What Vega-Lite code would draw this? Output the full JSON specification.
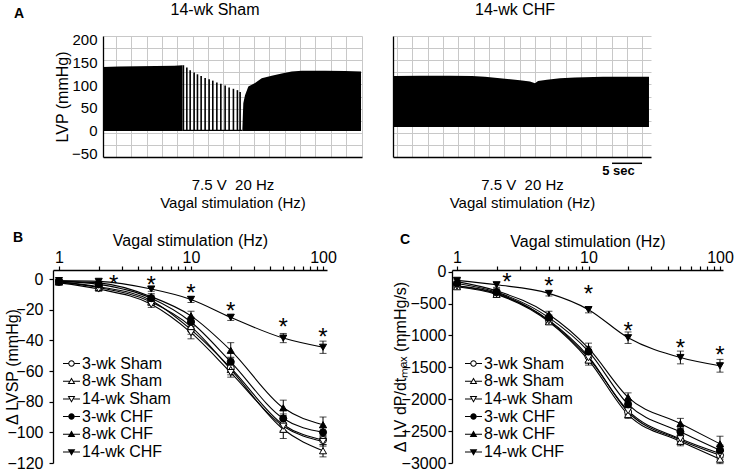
{
  "$schema": "https://vega.github.io/schema/vega-lite/v6.json",
  "background": "white",
  "padding": {"left": 4, "top": 2, "right": 2, "bottom": 2},
  "config": {
    "view": {"stroke": null},
    "font": "Liberation Sans",
    "axis": {"domainColor": "black", "domainWidth": 1.3, "tickColor": "black", "tickWidth": 1.2, "labelColor": "black", "titleColor": "black", "labelFontSize": 16, "titleFontSize": 16, "titleFontWeight": "normal", "labelFlush": false, "labelOverlap": false, "grid": false}
  },
  "datasets": {
    "shamBand": [
      {"seg": "pre", "t": 0.38, "top": 140}, {"seg": "pre", "t": 3, "top": 141}, {"seg": "pre", "t": 6, "top": 142}, {"seg": "pre", "t": 9, "top": 142.5}, {"seg": "pre", "t": 12, "top": 143}, {"seg": "pre", "t": 13.33, "top": 144},
      {"seg": "base", "t": 13.33, "top": 1.5}, {"seg": "base", "t": 23.08, "top": 1.5},
      {"seg": "post", "t": 23.08, "top": 0}, {"seg": "post", "t": 23.24, "top": 60}, {"seg": "post", "t": 23.52, "top": 78}, {"seg": "post", "t": 24.06, "top": 97}, {"seg": "post", "t": 25.15, "top": 105}, {"seg": "post", "t": 26.24, "top": 115}, {"seg": "post", "t": 27.87, "top": 121}, {"seg": "post", "t": 29.5, "top": 126}, {"seg": "post", "t": 31.13, "top": 130}, {"seg": "post", "t": 32.76, "top": 132}, {"seg": "post", "t": 36.55, "top": 132}, {"seg": "post", "t": 39.81, "top": 131}, {"seg": "post", "t": 42.42, "top": 130}
    ],
    "shamSpikes": [
      {"t": 13.48, "peak": 144}, {"t": 14.04, "peak": 139}, {"t": 14.58, "peak": 133}, {"t": 15.23, "peak": 128}, {"t": 15.77, "peak": 124}, {"t": 16.37, "peak": 120}, {"t": 17.02, "peak": 116}, {"t": 17.67, "peak": 113}, {"t": 18.27, "peak": 110}, {"t": 18.93, "peak": 106}, {"t": 19.58, "peak": 103}, {"t": 20.28, "peak": 99}, {"t": 20.93, "peak": 95}, {"t": 21.63, "peak": 92}, {"t": 22.28, "peak": 89}, {"t": 22.72, "peak": 85}
    ],
    "chfBand": [
      {"t": 2.01, "top": 120}, {"t": 6.25, "top": 121}, {"t": 11.14, "top": 121}, {"t": 14.72, "top": 120.5}, {"t": 16.84, "top": 118.5}, {"t": 20.1, "top": 114}, {"t": 22.54, "top": 111}, {"t": 24.17, "top": 108}, {"t": 24.99, "top": 104}, {"t": 25.48, "top": 109}, {"t": 26.94, "top": 112}, {"t": 29.06, "top": 115}, {"t": 31.51, "top": 117}, {"t": 36.07, "top": 118.5}, {"t": 43.56, "top": 118.5}
    ],
    "lvsp": [
      {"g": "3-wk Sham", "hz": 1, "v": -2, "e": 1}, {"g": "3-wk Sham", "hz": 2, "v": -5, "e": 1.5}, {"g": "3-wk Sham", "hz": 5, "v": -14, "e": 2}, {"g": "3-wk Sham", "hz": 10, "v": -33, "e": 3}, {"g": "3-wk Sham", "hz": 20, "v": -58, "e": 3}, {"g": "3-wk Sham", "hz": 50, "v": -95, "e": 4}, {"g": "3-wk Sham", "hz": 100, "v": -105, "e": 3},
      {"g": "8-wk Sham", "hz": 1, "v": -2, "e": 1}, {"g": "8-wk Sham", "hz": 2, "v": -5.5, "e": 1.5}, {"g": "8-wk Sham", "hz": 5, "v": -15, "e": 2}, {"g": "8-wk Sham", "hz": 10, "v": -31, "e": 3}, {"g": "8-wk Sham", "hz": 20, "v": -59, "e": 3.5}, {"g": "8-wk Sham", "hz": 50, "v": -98, "e": 6}, {"g": "8-wk Sham", "hz": 100, "v": -112, "e": 4},
      {"g": "14-wk Sham", "hz": 1, "v": -2.5, "e": 1}, {"g": "14-wk Sham", "hz": 2, "v": -6.5, "e": 1.5}, {"g": "14-wk Sham", "hz": 5, "v": -16.5, "e": 2}, {"g": "14-wk Sham", "hz": 10, "v": -35, "e": 4}, {"g": "14-wk Sham", "hz": 20, "v": -61, "e": 3}, {"g": "14-wk Sham", "hz": 50, "v": -96, "e": 4}, {"g": "14-wk Sham", "hz": 100, "v": -106, "e": 3},
      {"g": "3-wk CHF", "hz": 1, "v": -1.5, "e": 1}, {"g": "3-wk CHF", "hz": 2, "v": -3.5, "e": 1}, {"g": "3-wk CHF", "hz": 5, "v": -12.5, "e": 2}, {"g": "3-wk CHF", "hz": 10, "v": -28, "e": 3}, {"g": "3-wk CHF", "hz": 20, "v": -54, "e": 3}, {"g": "3-wk CHF", "hz": 50, "v": -91, "e": 3}, {"g": "3-wk CHF", "hz": 100, "v": -100, "e": 3},
      {"g": "8-wk CHF", "hz": 1, "v": -1.5, "e": 1}, {"g": "8-wk CHF", "hz": 2, "v": -2.5, "e": 1}, {"g": "8-wk CHF", "hz": 5, "v": -11.5, "e": 2}, {"g": "8-wk CHF", "hz": 10, "v": -24, "e": 3}, {"g": "8-wk CHF", "hz": 20, "v": -46.5, "e": 5}, {"g": "8-wk CHF", "hz": 50, "v": -84, "e": 5}, {"g": "8-wk CHF", "hz": 100, "v": -95, "e": 5},
      {"g": "14-wk CHF", "hz": 1, "v": -1, "e": 0.5}, {"g": "14-wk CHF", "hz": 2, "v": -1.5, "e": 1}, {"g": "14-wk CHF", "hz": 5, "v": -6.5, "e": 1.5}, {"g": "14-wk CHF", "hz": 10, "v": -13.3, "e": 2}, {"g": "14-wk CHF", "hz": 20, "v": -25, "e": 2}, {"g": "14-wk CHF", "hz": 50, "v": -38.5, "e": 3}, {"g": "14-wk CHF", "hz": 100, "v": -44.5, "e": 4}
    ],
    "dpdt": [
      {"g": "3-wk Sham", "hz": 1, "v": -220, "e": 30}, {"g": "3-wk Sham", "hz": 2, "v": -335, "e": 40}, {"g": "3-wk Sham", "hz": 5, "v": -760, "e": 40}, {"g": "3-wk Sham", "hz": 10, "v": -1330, "e": 80}, {"g": "3-wk Sham", "hz": 20, "v": -2200, "e": 60}, {"g": "3-wk Sham", "hz": 50, "v": -2640, "e": 70}, {"g": "3-wk Sham", "hz": 100, "v": -2880, "e": 70},
      {"g": "8-wk Sham", "hz": 1, "v": -235, "e": 30}, {"g": "8-wk Sham", "hz": 2, "v": -355, "e": 40}, {"g": "8-wk Sham", "hz": 5, "v": -785, "e": 40}, {"g": "8-wk Sham", "hz": 10, "v": -1385, "e": 80}, {"g": "8-wk Sham", "hz": 20, "v": -2240, "e": 60}, {"g": "8-wk Sham", "hz": 50, "v": -2660, "e": 70}, {"g": "8-wk Sham", "hz": 100, "v": -2940, "e": 70},
      {"g": "14-wk Sham", "hz": 1, "v": -225, "e": 30}, {"g": "14-wk Sham", "hz": 2, "v": -345, "e": 40}, {"g": "14-wk Sham", "hz": 5, "v": -770, "e": 40}, {"g": "14-wk Sham", "hz": 10, "v": -1350, "e": 80}, {"g": "14-wk Sham", "hz": 20, "v": -2180, "e": 60}, {"g": "14-wk Sham", "hz": 50, "v": -2620, "e": 70}, {"g": "14-wk Sham", "hz": 100, "v": -2850, "e": 70},
      {"g": "3-wk CHF", "hz": 1, "v": -185, "e": 30}, {"g": "3-wk CHF", "hz": 2, "v": -320, "e": 40}, {"g": "3-wk CHF", "hz": 5, "v": -720, "e": 40}, {"g": "3-wk CHF", "hz": 10, "v": -1250, "e": 70}, {"g": "3-wk CHF", "hz": 20, "v": -2080, "e": 70}, {"g": "3-wk CHF", "hz": 50, "v": -2510, "e": 70}, {"g": "3-wk CHF", "hz": 100, "v": -2800, "e": 80},
      {"g": "8-wk CHF", "hz": 1, "v": -155, "e": 30}, {"g": "8-wk CHF", "hz": 2, "v": -300, "e": 40}, {"g": "8-wk CHF", "hz": 5, "v": -670, "e": 50}, {"g": "8-wk CHF", "hz": 10, "v": -1200, "e": 80}, {"g": "8-wk CHF", "hz": 20, "v": -1970, "e": 70}, {"g": "8-wk CHF", "hz": 50, "v": -2380, "e": 80}, {"g": "8-wk CHF", "hz": 100, "v": -2700, "e": 120},
      {"g": "14-wk CHF", "hz": 1, "v": -135, "e": 30}, {"g": "14-wk CHF", "hz": 2, "v": -205, "e": 40}, {"g": "14-wk CHF", "hz": 5, "v": -340, "e": 40}, {"g": "14-wk CHF", "hz": 10, "v": -595, "e": 50}, {"g": "14-wk CHF", "hz": 20, "v": -1035, "e": 90}, {"g": "14-wk CHF", "hz": 50, "v": -1345, "e": 100}, {"g": "14-wk CHF", "hz": 100, "v": -1475, "e": 100}
    ],
    "starsB": [{"hz": 2.6, "y": 0}, {"hz": 5, "y": -0.5}, {"hz": 10, "y": -6}, {"hz": 20, "y": -17.5}, {"hz": 50, "y": -28}, {"hz": 100, "y": -34.5}],
    "starsC": [{"hz": 2.4, "y": -79}, {"hz": 5, "y": -140}, {"hz": 10, "y": -272}, {"hz": 20, "y": -846}, {"hz": 50, "y": -1125}, {"hz": 100, "y": -1220}]
  },
  "spacing": 21,
  "vconcat": [
    {
      "spacing": 31,
      "bounds": "flush",
      "hconcat": [
        {"width": 19, "height": 121, "data": {"values": [{}]}, "mark": {"type": "point", "opacity": 0}},
        {
          "width": 259, "height": 121,
          "resolve": {"axis": {"x": "independent", "y": "independent"}},
          "layer": [
            {
              "data": {"name": "shamBand"},
              "mark": {"type": "area", "color": "black", "interpolate": "linear"},
              "encoding": {
                "x": {"field": "t", "type": "quantitative", "scale": {"domain": [0.38, 42.58], "nice": false, "zero": false},
                  "axis": {"orient": "bottom", "values": [2.5, 5, 7.5, 10, 12.5, 15, 17.5, 20, 22.5, 25, 27.5, 30, 32.5, 35, 37.5, 40, 42.5], "grid": true, "gridColor": "#c8c8c8", "labels": false, "ticks": false, "title": ["7.5 V\u00a0 20 Hz", "Vagal stimulation (Hz)"], "titleFontSize": 15, "titleLineHeight": 18, "minExtent": 0, "maxExtent": 0, "titlePadding": 20}},
                "y": {"field": "top", "type": "quantitative", "scale": {"domain": [-58.5, 208.5], "nice": false, "zero": false},
                  "axis": {"orient": "left", "values": [-50, 0, 50, 100, 150, 200], "ticks": false, "labelPadding": 6, "labelFontSize": 15, "title": "LVP (mmHg)", "minExtent": 28, "maxExtent": 28, "titlePadding": 5}},
                "y2": {"datum": -1},
                "detail": {"field": "seg", "type": "nominal"}
              }
            },
            {
              "data": {"name": "shamSpikes"},
              "mark": {"type": "rule", "color": "black", "strokeWidth": 1.6},
              "encoding": {
                "x": {"field": "t", "type": "quantitative", "scale": {"domain": [0.38, 42.58], "nice": false, "zero": false}, "axis": null},
                "y": {"field": "peak", "type": "quantitative", "scale": {"domain": [-58.5, 208.5], "nice": false, "zero": false},
                  "axis": {"orient": "left", "values": [-31.8, -5.1, 21.6, 48.3, 75, 101.7, 128.4, 155.1, 181.8, 208.5], "grid": true, "gridColor": "#c8c8c8", "labels": false, "ticks": false, "domain": false, "title": null}},
                "y2": {"datum": -1}
              }
            },
            {
              "data": {"values": [{}]},
              "mark": {"type": "text", "text": "A", "fontSize": 14, "fontWeight": "bold", "align": "center", "baseline": "middle", "color": "black"},
              "encoding": {
                "x": {"datum": -13.31, "type": "quantitative", "scale": {"domain": [0.38, 42.58], "nice": false, "zero": false}, "axis": null},
                "y": {"datum": 257, "type": "quantitative", "scale": {"domain": [-58.5, 208.5], "nice": false, "zero": false}, "axis": null}
              }
            },
            {
              "data": {"values": [{}]},
              "mark": {"type": "text", "text": "14-wk Sham", "fontSize": 16, "align": "center", "baseline": "middle", "color": "black"},
              "encoding": {
                "x": {"datum": 18.63, "type": "quantitative", "scale": {"domain": [0.38, 42.58], "nice": false, "zero": false}, "axis": null},
                "y": {"datum": 265.8, "type": "quantitative", "scale": {"domain": [-58.5, 208.5], "nice": false, "zero": false}, "axis": null}
              }
            }
          ]
        },
        {
          "width": 258, "height": 121,
          "resolve": {"axis": {"x": "independent", "y": "independent"}},
          "layer": [
            {
              "data": {"name": "chfBand"},
              "mark": {"type": "area", "color": "black", "interpolate": "linear"},
              "encoding": {
                "x": {"field": "t", "type": "quantitative", "scale": {"domain": [1.85, 43.89], "nice": false, "zero": false},
                  "axis": {"orient": "bottom", "values": [2.5, 5, 7.5, 10, 12.5, 15, 17.5, 20, 22.5, 25, 27.5, 30, 32.5, 35, 37.5, 40, 42.5], "grid": true, "gridColor": "#c8c8c8", "labels": false, "ticks": false, "title": ["7.5 V\u00a0 20 Hz", "Vagal stimulation (Hz)"], "titleFontSize": 15, "titleLineHeight": 18, "minExtent": 0, "maxExtent": 0, "titlePadding": 20}},
                "y": {"field": "top", "type": "quantitative", "scale": {"domain": [-58.5, 208.5], "nice": false, "zero": false},
                  "axis": {"orient": "left", "values": [-31.8, -5.1, 21.6, 48.3, 75, 101.7, 128.4, 155.1, 181.8, 208.5], "grid": true, "gridColor": "#c8c8c8", "labels": false, "ticks": false, "title": null}},
                "y2": {"datum": 7.5}
              }
            },
            {
              "data": {"values": [{}]},
              "mark": {"type": "text", "text": "14-wk CHF", "fontSize": 16, "align": "center", "baseline": "middle", "color": "black"},
              "encoding": {
                "x": {"datum": 21.73, "type": "quantitative", "scale": {"domain": [1.85, 43.89], "nice": false, "zero": false}, "axis": null},
                "y": {"datum": 265.8, "type": "quantitative", "scale": {"domain": [-58.5, 208.5], "nice": false, "zero": false}, "axis": null}
              }
            },
            {
              "data": {"values": [{}]},
              "mark": {"type": "text", "text": "5 sec", "fontSize": 13, "fontWeight": "bold", "align": "center", "baseline": "middle", "color": "black"},
              "encoding": {
                "x": {"datum": 38.6, "type": "quantitative", "scale": {"domain": [1.85, 43.89], "nice": false, "zero": false}, "axis": null},
                "y": {"datum": -88.7, "type": "quantitative", "scale": {"domain": [-58.5, 208.5], "nice": false, "zero": false}, "axis": null}
              }
            },
            {
              "data": {"values": [{}]},
              "mark": {"type": "rule", "color": "black", "strokeWidth": 1.5},
              "encoding": {
                "x": {"datum": 37.54, "type": "quantitative", "scale": {"domain": [1.85, 43.89], "nice": false, "zero": false}, "axis": null},
                "x2": {"datum": 42.43},
                "y": {"datum": -72.4, "type": "quantitative", "scale": {"domain": [-58.5, 208.5], "nice": false, "zero": false}, "axis": null}
              }
            }
          ]
        }
      ]
    },
    {
      "spacing": 125,
      "bounds": "flush",
      "hconcat": [
        {
          "width": 274, "height": 193,
          "resolve": {"scale": {"shape": "independent", "fill": "independent"}, "axis": {"x": "independent", "y": "independent"}},
          "layer": [
            {
              "data": {"name": "lvsp"},
              "mark": {"type": "line", "interpolate": "monotone", "color": "black", "strokeWidth": 1.1},
              "encoding": {
                "x": {"field": "hz", "type": "quantitative", "scale": {"type": "log", "domain": [0.901, 107.2], "nice": false},
                  "axis": {"orient": "top", "values": [1, 2, 3, 4, 5, 6, 7, 8, 9, 10, 20, 30, 40, 50, 60, 70, 80, 90, 100], "labelExpr": "datum.value == 1 ? '1' : datum.value == 10 ? '10' : datum.value == 100 ? '100' : ''", "tickSize": 4, "labelPadding": 1, "title": "Vagal stimulation (Hz)", "minExtent": 20, "maxExtent": 20, "titlePadding": 2}},
                "y": {"field": "v", "type": "quantitative", "scale": {"domain": [-120, 5.9], "nice": false, "zero": false},
                  "axis": {"orient": "left", "values": [0, -20, -40, -60, -80, -100, -120], "format": "d", "tickSize": 4, "labelPadding": 6, "title": "\u0394 LVSP (mmHg)", "minExtent": 25, "maxExtent": 25, "titlePadding": 8}},
                "detail": {"field": "g", "type": "nominal"}
              }
            },
            {
              "data": {"name": "lvsp"},
              "mark": {"type": "errorbar", "ticks": true, "size": 7, "thickness": 1, "color": "black"},
              "encoding": {
                "x": {"field": "hz", "type": "quantitative", "scale": {"type": "log", "domain": [0.901, 107.2], "nice": false}, "axis": null},
                "y": {"field": "v", "type": "quantitative", "scale": {"domain": [-120, 5.9], "nice": false, "zero": false}, "axis": null},
                "yError": {"field": "e"}
              }
            },
            {
              "data": {"name": "lvsp"},
              "mark": {"type": "point", "opacity": 1, "stroke": "black", "strokeWidth": 1},
              "encoding": {
                "x": {"field": "hz", "type": "quantitative", "scale": {"type": "log", "domain": [0.901, 107.2], "nice": false}, "axis": null},
                "y": {"field": "v", "type": "quantitative", "scale": {"domain": [-120, 5.9], "nice": false, "zero": false}, "axis": null},
                "shape": {"field": "g", "type": "nominal", "scale": {"domain": ["3-wk Sham", "8-wk Sham", "14-wk Sham", "3-wk CHF", "8-wk CHF", "14-wk CHF"], "range": ["circle", "triangle-up", "triangle-down", "circle", "triangle-up", "triangle-down"]}, "legend": null},
                "fill": {"field": "g", "type": "nominal", "scale": {"domain": ["3-wk Sham", "8-wk Sham", "14-wk Sham", "3-wk CHF", "8-wk CHF", "14-wk CHF"], "range": ["white", "white", "white", "black", "black", "black"]}, "legend": null},
                "size": {"value": 50}
              }
            },
            {
              "data": {"name": "lvsp"},
              "mark": {"type": "point", "filled": true, "color": "black", "opacity": 0, "strokeWidth": 0},
              "encoding": {
                "shape": {"field": "g", "type": "nominal", "scale": {"domain": ["3-wk Sham", "8-wk Sham", "14-wk Sham", "3-wk CHF", "8-wk CHF", "14-wk CHF"], "range": [
                  "M-1,-0.06H-0.38V0.06H-1Z M0.38,-0.06H1V0.06H0.38Z M-0.38,0A0.38,0.38,0,1,1,0.38,0A0.38,0.38,0,1,1,-0.38,0Z M-0.26,0A0.26,0.26,0,1,0,0.26,0A0.26,0.26,0,1,0,-0.26,0Z",
                  "M-1,-0.06H-0.26V0.06H-1Z M0.26,-0.06H1V0.06H0.26Z M0,-0.45L0.45,0.33L-0.45,0.33Z M0,-0.21L-0.243,0.21L0.243,0.21Z",
                  "M-1,-0.06H-0.26V0.06H-1Z M0.26,-0.06H1V0.06H0.26Z M0,0.45L-0.45,-0.33L0.45,-0.33Z M0,0.21L0.243,-0.21L-0.243,-0.21Z",
                  "M-1,-0.06H-0.38V0.06H-1Z M0.38,-0.06H1V0.06H0.38Z M-0.38,0A0.38,0.38,0,1,1,0.38,0A0.38,0.38,0,1,1,-0.38,0Z",
                  "M-1,-0.06H-0.26V0.06H-1Z M0.26,-0.06H1V0.06H0.26Z M0,-0.45L0.45,0.33L-0.45,0.33Z",
                  "M-1,-0.06H-0.26V0.06H-1Z M0.26,-0.06H1V0.06H0.26Z M0,0.45L-0.45,-0.33L0.45,-0.33Z"]},
                  "legend": {"orient": "none", "legendX": 10, "legendY": 85, "title": null, "labelFontSize": 16, "labelColor": "black", "labelOffset": 2, "symbolSize": 289, "symbolOpacity": 1, "symbolFillColor": "black", "symbolStrokeWidth": 0, "rowPadding": 0.7, "padding": 0}}
              }
            },
            {
              "data": {"name": "starsB"},
              "mark": {"type": "text", "text": "*", "fontSize": 24, "dy": 6, "align": "center", "baseline": "middle", "color": "black"},
              "encoding": {
                "x": {"field": "hz", "type": "quantitative", "scale": {"type": "log", "domain": [0.901, 107.2], "nice": false}, "axis": null},
                "y": {"field": "y", "type": "quantitative", "scale": {"domain": [-120, 5.9], "nice": false, "zero": false}, "axis": null}
              }
            },
            {
              "data": {"values": [{}]},
              "mark": {"type": "text", "text": "B", "fontSize": 14, "fontWeight": "bold", "align": "center", "baseline": "middle", "color": "black"},
              "encoding": {
                "x": {"datum": 0.489, "type": "quantitative", "scale": {"type": "log", "domain": [0.901, 107.2], "nice": false}, "axis": null},
                "y": {"datum": 26.7, "type": "quantitative", "scale": {"domain": [-120, 5.9], "nice": false, "zero": false}, "axis": null}
              }
            }
          ]
        },
        {
          "width": 271, "height": 193,
          "resolve": {"scale": {"shape": "independent", "fill": "independent"}, "axis": {"x": "independent", "y": "independent"}},
          "layer": [
            {
              "data": {"name": "dpdt"},
              "mark": {"type": "line", "interpolate": "monotone", "color": "black", "strokeWidth": 1.1},
              "encoding": {
                "x": {"field": "hz", "type": "quantitative", "scale": {"type": "log", "domain": [0.916, 105.4], "nice": false},
                  "axis": {"orient": "top", "values": [1, 2, 3, 4, 5, 6, 7, 8, 9, 10, 20, 30, 40, 50, 60, 70, 80, 90, 100], "labelExpr": "datum.value == 1 ? '1' : datum.value == 10 ? '10' : datum.value == 100 ? '100' : ''", "tickSize": 4, "labelPadding": 1, "title": "Vagal stimulation (Hz)", "minExtent": 20, "maxExtent": 20, "titlePadding": 1}},
                "y": {"field": "v", "type": "quantitative", "scale": {"domain": [-3000, 27], "nice": false, "zero": false},
                  "axis": {"orient": "left", "values": [0, -500, -1000, -1500, -2000, -2500, -3000], "format": "d", "tickSize": 4, "labelPadding": 2, "title": "\u0394 LV dP/dt\u2098\u2090\u2093 (mmHg/s)", "minExtent": 36, "maxExtent": 36, "titlePadding": 8}},
                "detail": {"field": "g", "type": "nominal"}
              }
            },
            {
              "data": {"name": "dpdt"},
              "mark": {"type": "errorbar", "ticks": true, "size": 7, "thickness": 1, "color": "black"},
              "encoding": {
                "x": {"field": "hz", "type": "quantitative", "scale": {"type": "log", "domain": [0.916, 105.4], "nice": false}, "axis": null},
                "y": {"field": "v", "type": "quantitative", "scale": {"domain": [-3000, 27], "nice": false, "zero": false}, "axis": null},
                "yError": {"field": "e"}
              }
            },
            {
              "data": {"name": "dpdt"},
              "mark": {"type": "point", "opacity": 1, "stroke": "black", "strokeWidth": 1},
              "encoding": {
                "x": {"field": "hz", "type": "quantitative", "scale": {"type": "log", "domain": [0.916, 105.4], "nice": false}, "axis": null},
                "y": {"field": "v", "type": "quantitative", "scale": {"domain": [-3000, 27], "nice": false, "zero": false}, "axis": null},
                "shape": {"field": "g", "type": "nominal", "scale": {"domain": ["3-wk Sham", "8-wk Sham", "14-wk Sham", "3-wk CHF", "8-wk CHF", "14-wk CHF"], "range": ["circle", "triangle-up", "triangle-down", "circle", "triangle-up", "triangle-down"]}, "legend": null},
                "fill": {"field": "g", "type": "nominal", "scale": {"domain": ["3-wk Sham", "8-wk Sham", "14-wk Sham", "3-wk CHF", "8-wk CHF", "14-wk CHF"], "range": ["white", "white", "white", "black", "black", "black"]}, "legend": null},
                "size": {"value": 50}
              }
            },
            {
              "data": {"name": "dpdt"},
              "mark": {"type": "point", "filled": true, "color": "black", "opacity": 0, "strokeWidth": 0},
              "encoding": {
                "shape": {"field": "g", "type": "nominal", "scale": {"domain": ["3-wk Sham", "8-wk Sham", "14-wk Sham", "3-wk CHF", "8-wk CHF", "14-wk CHF"], "range": [
                  "M-1,-0.06H-0.38V0.06H-1Z M0.38,-0.06H1V0.06H0.38Z M-0.38,0A0.38,0.38,0,1,1,0.38,0A0.38,0.38,0,1,1,-0.38,0Z M-0.26,0A0.26,0.26,0,1,0,0.26,0A0.26,0.26,0,1,0,-0.26,0Z",
                  "M-1,-0.06H-0.26V0.06H-1Z M0.26,-0.06H1V0.06H0.26Z M0,-0.45L0.45,0.33L-0.45,0.33Z M0,-0.21L-0.243,0.21L0.243,0.21Z",
                  "M-1,-0.06H-0.26V0.06H-1Z M0.26,-0.06H1V0.06H0.26Z M0,0.45L-0.45,-0.33L0.45,-0.33Z M0,0.21L0.243,-0.21L-0.243,-0.21Z",
                  "M-1,-0.06H-0.38V0.06H-1Z M0.38,-0.06H1V0.06H0.38Z M-0.38,0A0.38,0.38,0,1,1,0.38,0A0.38,0.38,0,1,1,-0.38,0Z",
                  "M-1,-0.06H-0.26V0.06H-1Z M0.26,-0.06H1V0.06H0.26Z M0,-0.45L0.45,0.33L-0.45,0.33Z",
                  "M-1,-0.06H-0.26V0.06H-1Z M0.26,-0.06H1V0.06H0.26Z M0,0.45L-0.45,-0.33L0.45,-0.33Z"]},
                  "legend": {"orient": "none", "legendX": 13, "legendY": 85, "title": null, "labelFontSize": 16, "labelColor": "black", "labelOffset": 2, "symbolSize": 289, "symbolOpacity": 1, "symbolFillColor": "black", "symbolStrokeWidth": 0, "rowPadding": 0.7, "padding": 0}}
              }
            },
            {
              "data": {"name": "starsC"},
              "mark": {"type": "text", "text": "*", "fontSize": 24, "dy": 6, "align": "center", "baseline": "middle", "color": "black"},
              "encoding": {
                "x": {"field": "hz", "type": "quantitative", "scale": {"type": "log", "domain": [0.916, 105.4], "nice": false}, "axis": null},
                "y": {"field": "y", "type": "quantitative", "scale": {"domain": [-3000, 27], "nice": false, "zero": false}, "axis": null}
              }
            },
            {
              "data": {"values": [{}]},
              "mark": {"type": "text", "text": "C", "fontSize": 14, "fontWeight": "bold", "align": "center", "baseline": "middle", "color": "black"},
              "encoding": {
                "x": {"datum": 0.402, "type": "quantitative", "scale": {"type": "log", "domain": [0.916, 105.4], "nice": false}, "axis": null},
                "y": {"datum": 499, "type": "quantitative", "scale": {"domain": [-3000, 27], "nice": false, "zero": false}, "axis": null}
              }
            }
          ]
        }
      ]
    }
  ]
}
